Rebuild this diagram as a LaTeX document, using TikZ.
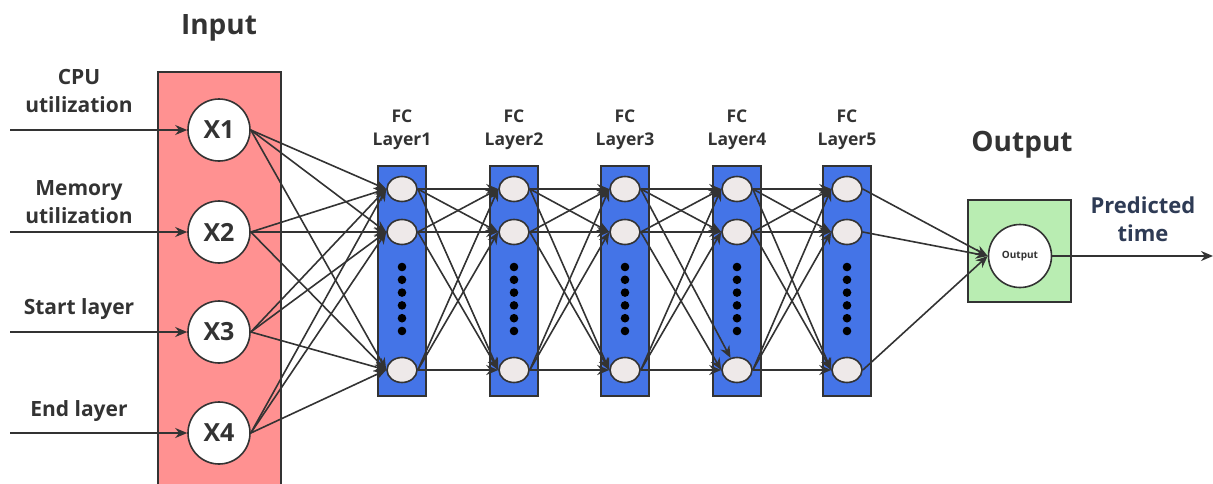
\documentclass[tikz,border=0pt]{standalone}
\usepackage{fontspec}
\setmainfont{Open Sans}
\usetikzlibrary{arrows.meta,shapes.geometric}
\definecolor{lc}{HTML}{333333}
\definecolor{txt}{HTML}{333333}
\definecolor{inred}{HTML}{FF9191}
\definecolor{fcblue}{HTML}{4474E7}
\definecolor{nodegray}{HTML}{EEE9E9}
\definecolor{outgreen}{HTML}{B9EDB2}
\definecolor{predblue}{HTML}{2E3B55}
\tikzset{
  conn/.style={draw=lc, line width=1.6pt, -{Stealth[length=12pt,width=10pt]}},
  xnode/.style={circle, draw=lc, line width=1.6pt, fill=white, minimum size=62pt, inner sep=0pt, font=\fontsize{25}{28}\selectfont\bfseries, text=txt},
  fcnode/.style={ellipse, draw=lc, line width=1.6pt, fill=nodegray, minimum width=30pt, minimum height=25pt, inner sep=0pt},
  panel/.style={draw=lc, line width=1.5pt},
  lbl/.style={align=center, text=txt, font=\fontsize{21}{28}\selectfont\bfseries},
  fclbl/.style={align=center, text=txt, font=\fontsize{17.5}{23}\selectfont\bfseries},
  title/.style={text=txt, font=\fontsize{28}{32}\selectfont\bfseries}
}
\begin{document}
\begin{tikzpicture}[x=1pt,y=-1pt]
\useasboundingbox (0,0) rectangle (1213,483);
% Input panel
\path[panel, fill=inred] (158,72) rectangle (281,487);
\node[title] (intitle) at (219,28) {Input};
% input nodes
\node[xnode] (X1) at (219,130) {X1};
\node[xnode] (X2) at (219,232) {X2};
\node[xnode] (X3) at (219,332) {X3};
\node[xnode] (X4) at (219,433) {X4};
% input labels
\node[lbl] (l1) at (79,91) {CPU\\utilization};
\node[lbl] (l2) at (79,202) {Memory\\utilization};
\node[lbl] (l3) at (79,309) {Start layer};
\node[lbl] (l4) at (79,411) {End layer};
\coordinate (s1) at (10,130);
\coordinate (s2) at (10,232);
\coordinate (s3) at (10,332);
\coordinate (s4) at (10,433);
\foreach \i in {1,2,3,4} \draw[conn] (s\i) -- (X\i.west);
% FC layers
\foreach \L/\cx in {1/402,2/514,3/625,4/737,5/847}{
  \path[panel, fill=fcblue] (\cx-24,166) rectangle (\cx+24,396);
  \node[fcnode] (L\L n1) at (\cx,189) {};
  \node[fcnode] (L\L n2) at (\cx,232) {};
  \node[fcnode] (L\L n3) at (\cx,370) {};
  \foreach \k in {0,...,5} \fill[black] (\cx,267+\k*12.8) circle (4.3);
  \node[fclbl] (fc\L) at (\cx,130) {FC\\Layer\L};
}
% Output
\path[panel, fill=outgreen] (968,200) rectangle (1071,302);
\node[title] (outtitle) at (1022,145) {Output};
\node[circle, draw=lc, line width=1.6pt, fill=white, minimum size=63pt, inner sep=0pt, text=txt, font=\fontsize{10}{12}\selectfont\bfseries] (Out) at (1020,256) {Output};
\node[align=center, text=predblue, font=\fontsize{22}{28}\selectfont\bfseries] (pred) at (1143,219) {Predicted\\time};
\coordinate (oend) at (1213,256);
\draw[conn] (Out.east) -- (oend);
% connections input -> layer1
\foreach \i in {1,2,3,4}
  \foreach \j in {1,2,3}
    \draw[conn] (X\i.east) -- (L1n\j.west);
% layer -> layer
\foreach \a/\b in {1/2,2/3,3/4,4/5}
  \foreach \i in {1,2,3}
    \foreach \j in {1,2,3}{
      \ifnum\a=3 \ifnum\i=1 \ifnum\j=3 \else
        \draw[conn] (L\a n\i.east) -- (L\b n\j.west);
      \fi\else
        \draw[conn] (L\a n\i.east) -- (L\b n\j.west);
      \fi\else
        \draw[conn] (L\a n\i.east) -- (L\b n\j.west);
      \fi
    }
\draw[conn] (L3n1.east) -- (L4n3);
% layer5 -> output
\foreach \j in {1,2,3} \draw[conn] (L5n\j.east) -- (Out.west);
\end{tikzpicture}
\end{document}
